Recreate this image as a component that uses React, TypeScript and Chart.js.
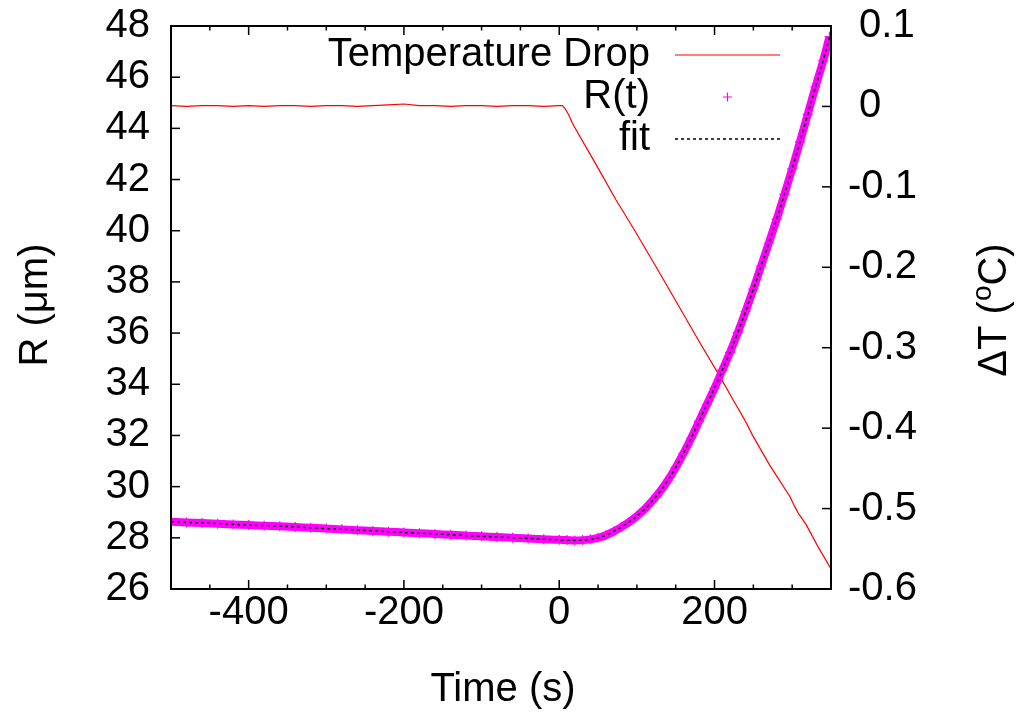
import { useEffect, useRef } from "react";
import { Chart, registerables } from "chart.js";

Chart.register(...registerables);

// ---- data ----
const tempTime = [
  -500, -480, -460, -440, -420, -400, -380, -360, -340, -320, -300, -280, -260,
  -240, -220, -200, -180, -160, -140, -120, -100, -80, -60, -40, -20, 0,
  4, 7, 12, 17, 24, 39, 56, 73, 97, 125, 155, 180, 207, 224, 239, 249, 271,
  297, 303, 308, 318, 333, 350,
];
const tempValues = [
  0.001, 0.0, 0.001, 0.001, 0.0, 0.001, 0.0, 0.001, 0.001, 0.0, 0.001, 0.001,
  0.0, 0.001, 0.002, 0.003, 0.001, 0.001, 0.0, 0.001, 0.001, 0.0, 0.001, 0.001,
  0.0, 0.001,
  0.001, -0.002, -0.01, -0.021, -0.033, -0.058, -0.087, -0.116, -0.154, -0.2,
  -0.25, -0.292, -0.336, -0.365, -0.39, -0.409, -0.446, -0.485, -0.497, -0.506,
  -0.52, -0.547, -0.575,
];

const rTime = [
  -500, -480, -460, -440, -420, -400, -380, -360, -340, -320, -300, -280, -260,
  -240, -220, -200, -180, -160, -140, -120, -100, -80, -60, -40, -20, 0, 10, 20,
  30, 40, 50, 60, 70, 80, 90, 100, 110, 120, 130, 140, 150, 160, 170, 180, 190,
  200, 210, 220, 230, 240, 250, 260, 270, 280, 290, 300, 310, 320, 330, 340, 348,
];
const rValues = [
  28.63, 28.6, 28.58, 28.55, 28.52, 28.5, 28.47, 28.45, 28.42, 28.39, 28.36,
  28.33, 28.3, 28.27, 28.24, 28.21, 28.18, 28.15, 28.12, 28.09, 28.06, 28.03,
  28.0, 27.97, 27.94, 27.92, 27.91, 27.9, 27.91, 27.94, 28.0, 28.1, 28.25,
  28.42, 28.62, 28.85, 29.12, 29.45, 29.82, 30.25, 30.75, 31.3, 31.9, 32.55,
  33.2, 33.85, 34.55, 35.25, 36.02, 36.85, 37.72, 38.62, 39.52, 40.45, 41.42,
  42.42, 43.47, 44.55, 45.62, 46.65, 47.58,
];

const fitTime = [
  -500, -450, -400, -350, -300, -250, -200, -150, -100, -50, 0, 10, 20, 30, 40,
  50, 60, 70, 80, 90, 100, 110, 120, 130, 140, 150, 160, 170, 180, 190, 200,
  210, 220, 230, 240, 250, 260, 270, 280, 290, 300, 310, 320, 330, 340, 348,
];
const fitValues = [
  28.63, 28.57, 28.5, 28.44, 28.36, 28.29, 28.21, 28.14, 28.06, 27.99, 27.92,
  27.91, 27.9, 27.91, 27.94, 28.0, 28.1, 28.25, 28.42, 28.62, 28.85, 29.12,
  29.45, 29.82, 30.25, 30.75, 31.3, 31.9, 32.55, 33.2, 33.85, 34.55, 35.25,
  36.02, 36.85, 37.72, 38.62, 39.52, 40.45, 41.42, 42.42, 43.47, 44.55, 45.62,
  46.65, 47.58,
];

const xMajorTicks = [-400, -200, 0, 200];
const leftTicks = [26, 28, 30, 32, 34, 36, 38, 40, 42, 44, 46, 48];
const rightTicks = [-0.6, -0.5, -0.4, -0.3, -0.2, -0.1, 0, 0.1];

const FONT = "'Liberation Sans', Arial, Helvetica, sans-serif";
const FS = 40;

const gnuplotPlugin = {
  id: "gnuplotFrame",
  afterDraw(chart: any) {
    const { ctx, chartArea: a, scales } = chart;
    ctx.save();
    ctx.strokeStyle = "#000";
    ctx.lineWidth = 2;
    ctx.strokeRect(a.left, a.top, a.right - a.left, a.bottom - a.top);
    ctx.lineWidth = 1.5;
    const x = scales.x;
    for (let v = -450; v <= 350; v += 50) {
      const px = x.getPixelForValue(v);
      const len = xMajorTicks.includes(v) ? 9 : 4.5;
      ctx.beginPath();
      ctx.moveTo(px, a.bottom);
      ctx.lineTo(px, a.bottom - len);
      ctx.moveTo(px, a.top);
      ctx.lineTo(px, a.top + len);
      ctx.stroke();
    }
    scales.y.ticks.forEach((t: any) => {
      const py = scales.y.getPixelForValue(t.value);
      ctx.beginPath();
      ctx.moveTo(a.left, py);
      ctx.lineTo(a.left + 9, py);
      ctx.stroke();
    });
    scales.y2.ticks.forEach((t: any) => {
      const py = scales.y2.getPixelForValue(t.value);
      ctx.beginPath();
      ctx.moveTo(a.right, py);
      ctx.lineTo(a.right - 9, py);
      ctx.stroke();
    });

    // legend (gnuplot style)
    const ds = chart.data.datasets;
    const rows = [55, 97, 139];
    ctx.font = `${FS}px ${FONT}`;
    ctx.fillStyle = "#000";
    ctx.textAlign = "right";
    ctx.textBaseline = "middle";
    ds.forEach((d: any, i: number) => {
      const y = rows[i];
      ctx.fillText(d.label, 650, y);
      if (i === 0) {
        ctx.strokeStyle = d.borderColor;
        ctx.lineWidth = 1.2;
        ctx.setLineDash([]);
        ctx.beginPath();
        ctx.moveTo(675, y);
        ctx.lineTo(780, y);
        ctx.stroke();
      } else if (i === 1) {
        ctx.strokeStyle = d.pointBorderColor;
        ctx.lineWidth = 1.2;
        ctx.setLineDash([]);
        ctx.beginPath();
        ctx.moveTo(723, y);
        ctx.lineTo(732, y);
        ctx.moveTo(727.5, y - 4.5);
        ctx.lineTo(727.5, y + 4.5);
        ctx.stroke();
      } else {
        ctx.strokeStyle = d.borderColor;
        ctx.lineWidth = 1.5;
        ctx.setLineDash(d.borderDash);
        ctx.beginPath();
        ctx.moveTo(675, y);
        ctx.lineTo(780, y);
        ctx.stroke();
        ctx.setLineDash([]);
      }
    });

    // axis titles
    ctx.fillStyle = "#000";
    ctx.textAlign = "center";
    ctx.textBaseline = "middle";
    ctx.fillText("Time (s)", (a.left + a.right) / 2 + 2, 690);

    ctx.save();
    ctx.translate(36, 305);
    ctx.rotate(-Math.PI / 2);
    ctx.fillText("R (μm)", 0, 0);
    ctx.restore();

    ctx.save();
    ctx.translate(995, 310);
    ctx.rotate(-Math.PI / 2);
    const p1 = "ΔT (";
    const p2 = "o";
    const p3 = "C)";
    ctx.font = `${FS}px ${FONT}`;
    const w1 = ctx.measureText(p1).width;
    const w3 = ctx.measureText(p3).width;
    ctx.font = `${FS * 0.7}px ${FONT}`;
    const w2 = ctx.measureText(p2).width;
    const total = w1 + w2 + w3;
    let cx = -total / 2;
    ctx.textAlign = "left";
    ctx.font = `${FS}px ${FONT}`;
    ctx.fillText(p1, cx, 0);
    cx += w1;
    ctx.font = `${FS * 0.7}px ${FONT}`;
    ctx.fillText(p2, cx, -FS * 0.3);
    cx += w2;
    ctx.font = `${FS}px ${FONT}`;
    ctx.fillText(p3, cx, 0);
    ctx.restore();

    ctx.restore();
  },
};

export default function App() {
  const ref = useRef<HTMLCanvasElement | null>(null);

  useEffect(() => {
    document.body.style.margin = "0";
    const canvas = ref.current!;
    const chart = new Chart(canvas, {
      type: "line",
      data: {
        datasets: [
          {
            label: "Temperature Drop",
            data: tempTime.map((t, i) => ({ x: t, y: tempValues[i] })),
            yAxisID: "y2",
            borderColor: "rgb(255,0,0)",
            borderWidth: 1.2,
            pointRadius: 0,
            order: 3,
          },
          {
            label: "R(t)",
            data: rTime.map((t, i) => ({ x: t, y: rValues[i] })),
            yAxisID: "y",
            borderColor: "rgb(255,0,255)",
            borderWidth: 8,
            pointStyle: "cross",
            pointRadius: 5,
            pointBorderColor: "rgb(255,0,255)",
            pointBackgroundColor: "rgb(255,0,255)",
            pointBorderWidth: 1.2,
            cubicInterpolationMode: "monotone",
            order: 2,
          },
          {
            label: "fit",
            data: fitTime.map((t, i) => ({ x: t, y: fitValues[i] })),
            yAxisID: "y",
            borderColor: "#000",
            borderWidth: 1.5,
            borderDash: [3, 3],
            pointRadius: 0,
            cubicInterpolationMode: "monotone",
            order: 1,
          },
        ],
      },
      options: {
        animation: false,
        responsive: false,
        events: [],
        layout: { padding: { top: 26, left: 0, right: 0, bottom: 0 } },
        plugins: {
          legend: { display: false },
          tooltip: { enabled: false },
        },
        scales: {
          x: {
            type: "linear",
            min: -500,
            max: 350,
            grid: { display: false, drawTicks: false },
            border: { display: false },
            afterBuildTicks: (s: any) => {
              s.ticks = xMajorTicks.map((v) => ({ value: v }));
            },
            afterFit: (s: any) => {
              s.height = 126;
              s.paddingLeft = 0;
              s.paddingRight = 0;
            },
            ticks: {
              padding: 0,
              color: "#000",
              font: { family: FONT, size: FS },
              maxRotation: 0,
              autoSkip: false,
            },
          },
          y: {
            type: "linear",
            position: "left",
            min: 26,
            max: 48,
            grid: { display: false, drawTicks: false },
            border: { display: false },
            afterBuildTicks: (s: any) => {
              s.ticks = leftTicks.map((v) => ({ value: v }));
            },
            afterFit: (s: any) => {
              s.width = 171;
              s.paddingTop = 0;
              s.paddingBottom = 0;
            },
            ticks: {
              padding: 21,
              color: "#000",
              font: { family: FONT, size: FS },
              autoSkip: false,
            },
          },
          y2: {
            type: "linear",
            position: "right",
            min: -0.6,
            max: 0.1,
            grid: { display: false, drawTicks: false },
            border: { display: false },
            afterBuildTicks: (s: any) => {
              s.ticks = rightTicks.map((v) => ({ value: v }));
            },
            afterFit: (s: any) => {
              s.width = 197;
              s.paddingTop = 0;
              s.paddingBottom = 0;
            },
            ticks: {
              padding: 17,
              color: "#000",
              font: { family: FONT, size: FS },
              autoSkip: false,
              callback: (v: any) => {
                const n = Math.round(Number(v) * 10) / 10;
                return n >= 0 ? " " + String(n) : String(n);
              },
            },
          },
        },
      },
      plugins: [gnuplotPlugin],
    } as any);
    return () => chart.destroy();
  }, []);

  return (
    <div style={{ position: "fixed", left: 0, top: 0, width: 1028, height: 715, background: "#fff" }}>
      <canvas ref={ref} width={1028} height={715} style={{ display: "block" }} />
    </div>
  );
}
